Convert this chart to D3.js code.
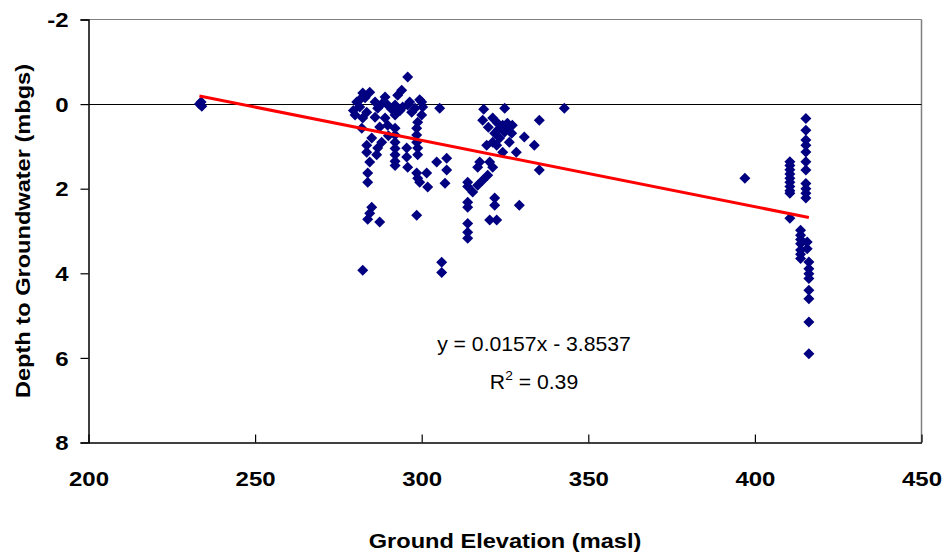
<!DOCTYPE html>
<html><head><meta charset="utf-8">
<script src="https://cdn.jsdelivr.net/npm/d3@7"></script>
<style>
html,body{margin:0;padding:0;background:#fff;}
svg{display:block;}
text{font-family:Arial,"Liberation Sans",sans-serif;}
</style></head>
<body>
<script>
// ---- data ----
const elevation = [
233.3,233.8,234.0,
282.3,284.4,289.0,292.8,294.0,295.8,
281.4,286.0,296.4,299.4,300.0,
281.4,283.5,286.8,289.8,292.0,294.3,297.0,295.8,300.3,305.4,
280.0,282.3,286.0,289.0,292.0,300.0,279.5,280.5,283.0,288.0,291.0,293.5,298.0,
282.0,287.4,289.8,292.0,298.8,298.5,
292.0,292.0,292.0,292.0,292.0,292.0,
288.0,286.8,286.5,283.5,283.5,284.4,285.0,290.0,
298.5,298.5,298.8,298.8,
295.5,295.5,295.8,
283.8,283.8,
298.5,298.8,301.5,301.8,304.5,307.5,307.5,307.0,299.4,
298.5,285.0,284.4,283.8,287.4,282.3,306.0,306.0,
318.6,324.9,335.3,342.8,
318.3,321.3,322.8,324.3,325.7,327.2,324.9,321.9,327.0,330.8,323.4,326.3,333.8,321.3,319.5,322.5,324.3,328.4,335.3,
317.4,316.8,320.4,321.3,319.8,318.3,313.8,316.8,313.8,315.3,313.8,313.8,321.9,321.9,329.3,320.4,322.5,313.8,313.8,313.8,
323.0,325.5,320.0,
397.0,
415.3,415.3,415.3,415.3,415.3,415.3,415.3,415.3,415.3,415.3,415.3,
410.5,410.5,410.5,410.5,410.5,410.5,410.5,410.5,410.5,
410.5,
413.7,413.7,413.7,413.7,413.7,413.7,413.7,
415.7,415.7,
416.2,416.2,416.2,416.2,416.2,416.2,416.2,416.2
];
const depth = [
0.0,-0.05,0.05,
-0.26,-0.28,-0.17,-0.21,-0.33,-0.64,
-0.1,-0.05,-0.05,-0.1,-0.05,
0.07,0.19,0.1,0.02,0.02,0.07,0.19,0.02,0.07,0.1,
0.26,0.33,0.31,0.33,0.26,0.26,0.15,-0.05,-0.15,0.0,0.12,0.15,0.1,
0.57,0.54,0.5,0.57,0.43,0.57,
0.73,0.9,1.05,1.2,1.35,1.45,
0.9,1.04,1.2,0.97,1.14,1.37,0.8,0.75,
0.73,0.9,1.04,1.2,
1.04,1.25,1.49,
1.63,1.85,
1.63,1.75,1.63,1.96,1.37,1.28,1.56,1.87,1.85,
2.63,2.44,2.58,2.72,2.79,3.93,3.74,3.98,
0.12,0.1,0.38,0.1,
0.38,0.33,0.45,0.5,0.45,0.5,0.66,0.69,0.69,0.78,0.8,0.9,0.97,0.9,0.97,0.97,1.14,1.14,1.56,
1.37,1.49,1.37,1.49,1.68,1.8,1.85,1.92,1.95,2.08,2.32,2.44,2.22,2.39,2.39,2.74,2.74,2.82,3.03,3.17,
0.6,0.58,0.55,
1.75,
0.34,0.62,0.85,0.97,1.13,1.36,1.56,1.88,2.0,2.11,2.22,
1.36,1.45,1.55,1.65,1.75,1.85,1.95,2.05,2.11,
2.7,
2.98,3.1,3.2,3.3,3.45,3.55,3.65,
3.26,3.42,
3.73,3.89,4.01,4.12,4.40,4.6,5.15,5.9
];
const xTicks = [200,250,300,350,400,450];
const yTicks = [-2,0,2,4,6,8];
const trendSlope = 0.0157;
const trendIntercept = -3.8537;
const equationLabel = "y = 0.0157x - 3.8537";
const r2Value = "0.39";
const xTitle = "Ground Elevation (masl)";
const yTitle = "Depth to Groundwater (mbgs)";

// ---- drawing ----
const W = 946, H = 557;
const L = 88.5, R = 921.5, T = 19.5, B = 442.5;
const svg = d3.select("body").append("svg").attr("width", W).attr("height", H);

const x = d3.scaleLinear().domain([200,450]).range([L,R]);
const y = d3.scaleLinear().domain([-2,8]).range([T,B]);
const SX = 1.2; // horizontal text stretch seen in the reference

// plot border (gray top/right)
svg.append("line").attr("x1",L).attr("x2",R).attr("y1",T).attr("y2",T).attr("stroke","#808080").attr("stroke-width",1);
svg.append("line").attr("x1",R).attr("x2",R).attr("y1",T).attr("y2",B).attr("stroke","#808080").attr("stroke-width",1.5);

// zero line
svg.append("line").attr("x1",L).attr("x2",R).attr("y1",Math.round(y(0))+0.5).attr("y2",Math.round(y(0))+0.5)
  .attr("stroke","#000").attr("stroke-width",1.2);

// axes
const yAxis = d3.axisLeft(y).tickValues(yTicks).tickSize(8).tickFormat(d=>String(d));
const gy = svg.append("g").attr("transform",`translate(${L},0)`).call(yAxis);
const xAxis = d3.axisBottom(x).tickValues(xTicks).tickSizeInner(-8).tickSizeOuter(0);
const gx = svg.append("g").attr("transform",`translate(0,${B})`).call(xAxis);
[gx,gy].forEach(g=>{
  g.select(".domain").attr("stroke","#000").attr("stroke-width",1.5);
  g.selectAll(".tick line").attr("stroke","#000").attr("stroke-width",1.2);
  g.selectAll(".tick text").attr("font-family","Arial, 'Liberation Sans', sans-serif")
    .attr("font-size",20).attr("font-weight","bold").attr("fill","#000");
});
gy.selectAll(".tick text").attr("x",0).attr("dy","0.36em").attr("transform",`translate(-20,0) scale(${SX},1)`);
gx.selectAll(".tick text").attr("y",0).attr("dy","0").attr("transform",`translate(0,43) scale(${SX},1)`);

// points
const diamond = "M0,-5.5L5.5,0L0,5.5L-5.5,0Z";
svg.append("g").selectAll("path").data(elevation.map((e,i)=>[e,depth[i]])).join("path")
  .attr("d",diamond)
  .attr("transform",d=>`translate(${x(d[0])},${y(d[1])})`)
  .attr("fill","#000080");

// trendline
const ext = d3.extent(elevation);
const line = d3.line().x(d=>x(d)).y(d=>y(trendSlope*d+trendIntercept));
svg.append("path").datum(ext).attr("d",line).attr("stroke","#ff0000").attr("stroke-width",3).attr("fill","none");

// equation
svg.append("text").attr("transform","translate(534,351) scale(1.06,1)").attr("text-anchor","middle")
  .attr("font-size",20).text(equationLabel);
const r2 = svg.append("text").attr("transform","translate(534,389) scale(1.06,1)").attr("text-anchor","middle").attr("font-size",20);
r2.append("tspan").text("R");
r2.append("tspan").attr("font-size",13).attr("dy",-9).text("2");
r2.append("tspan").attr("dy",9).text(" = " + r2Value);

// titles
svg.append("text").attr("transform",`translate(${(L+R)/2},548) scale(1.18,1)`).attr("text-anchor","middle")
  .attr("font-size",20).attr("font-weight","bold").text(xTitle);
svg.append("text").attr("transform",`translate(30,${(T+B)/2}) rotate(-90) scale(1.18,1)`).attr("text-anchor","middle")
  .attr("font-size",20).attr("font-weight","bold").text(yTitle);
</script>
</body></html>
